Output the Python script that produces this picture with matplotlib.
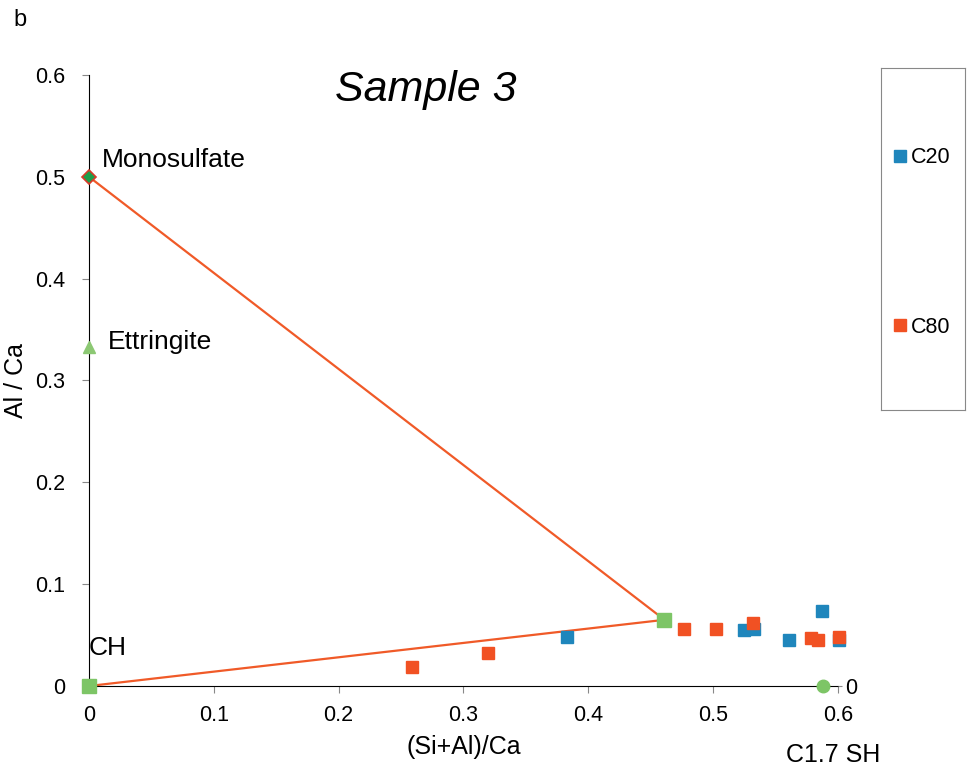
import matplotlib.pyplot as plt

plt.rcParams['font.family'] = ['Liberation Sans', 'DejaVu Sans']

# 数据
c20_x = [0.383, 0.525, 0.533, 0.561, 0.587, 0.601]
c20_y = [0.048, 0.055, 0.056, 0.0455, 0.074, 0.045]
c80_x = [0.259, 0.320, 0.477, 0.502, 0.532, 0.578, 0.584, 0.601]
c80_y = [0.019, 0.0327, 0.056, 0.056, 0.062, 0.047, 0.045, 0.048]

# 参考相
mono = (0.0, 0.5)
ettr = (0.0, 0.333)
ch = (0.0, 0.0)
csh_end = (0.461, 0.065)
c17sh = (0.588, 0.0)

blue = '#1F86BC'
orange = '#F15123'
green = '#7DC566'
line_c = '#F05A28'

fig = plt.figure(figsize=(9.7, 7.69), dpi=100)
ax = fig.add_axes([89 / 970, 1 - 686 / 769, (838 - 89) / 970, (686 - 75) / 769])

# 连线
ax.plot([mono[0], csh_end[0]], [mono[1], csh_end[1]], color=line_c, lw=1.6, zorder=2)
ax.plot([ch[0], csh_end[0]], [ch[1], csh_end[1]], color=line_c, lw=1.6, zorder=2)

# 样品点
ax.plot(c20_x, c20_y, 's', color=blue, ms=9, ls='none', label='C20', zorder=3, clip_on=False)
ax.plot(c80_x, c80_y, 's', color=orange, ms=9, ls='none', label='C80', zorder=3, clip_on=False)

# 参考相点
ax.plot(*mono, 'D', color='#1E9E4A', mec='#D83A2A', mew=1.2, ms=7, zorder=4, clip_on=False)
ax.plot(*ettr, '^', color='#8CC873', ms=9, zorder=4, clip_on=False)
ax.plot(*ch, 's', color=green, ms=9.5, zorder=4, clip_on=False)
ax.plot(*csh_end, 's', color=green, ms=9.5, zorder=4, clip_on=False)
ax.plot(*c17sh, 'o', color=green, ms=9, zorder=4, clip_on=False)

ax.text(0.0105, 0.5166, 'Monosulfate', fontsize=19, va='center')
ax.text(0.015, 0.338, 'Ettringite', fontsize=19, va='center')
ax.text(0.0, 0.0373, 'CH', fontsize=19, va='center')

ax.set_xlim(0, 0.6)
ax.set_ylim(0, 0.6)
ax.set_xticks([0, 0.1, 0.2, 0.3, 0.4, 0.5, 0.6])
ax.set_xticklabels(['0', '0.1', '0.2', '0.3', '0.4', '0.5', '0.6'])
ax.set_yticks([0, 0.1, 0.2, 0.3, 0.4, 0.5, 0.6])
ax.set_yticklabels(['0', '0.1', '0.2', '0.3', '0.4', '0.5', '0.6'])
ax.tick_params(labelsize=15.5, color='#888888', length=5)
ax.tick_params(axis='y', pad=12)
ax.tick_params(axis='x', pad=9)
ax.spines['top'].set_visible(False)
ax.spines['right'].set_visible(False)
ax.set_xlabel('(Si+Al)/Ca', fontsize=18, labelpad=6)
ax.set_ylabel('Al / Ca', fontsize=18)
ax.yaxis.set_label_coords(-0.081, 0.5)

# 右侧副轴，只有0
ax2 = ax.twinx()
ax2.set_ylim(0, 0.6)
ax2.set_yticks([0])
ax2.set_yticklabels(['0'])
ax2.tick_params(labelsize=15.5, color='#888888', length=3, pad=2)
for s in ax2.spines.values():
    s.set_visible(False)

ax.set_title('Sample 3', fontsize=31, style='italic', x=0.45, y=0.995, va='top')
fig.text(13 / 970, 1 - 20 / 769, 'b', fontsize=17, va='center')
fig.text(833 / 970, 1 - 755 / 769, 'C1.7 SH', fontsize=18, ha='center', va='center')

# 图例框
lax = fig.add_axes([881 / 970, 1 - 410 / 769, 84 / 970, (410 - 68) / 769])
lax.set_xticks([])
lax.set_yticks([])
for s in lax.spines.values():
    s.set_color('#888888')
h, l = ax.get_legend_handles_labels()
lax.legend(h, l, loc='center', bbox_to_anchor=(0.5, 0.49), frameon=False,
           fontsize=15.5, labelspacing=6.9, handlelength=0.5, handletextpad=0.25,
           markerscale=0.95)

fig.savefig('out.png', dpi=100)
